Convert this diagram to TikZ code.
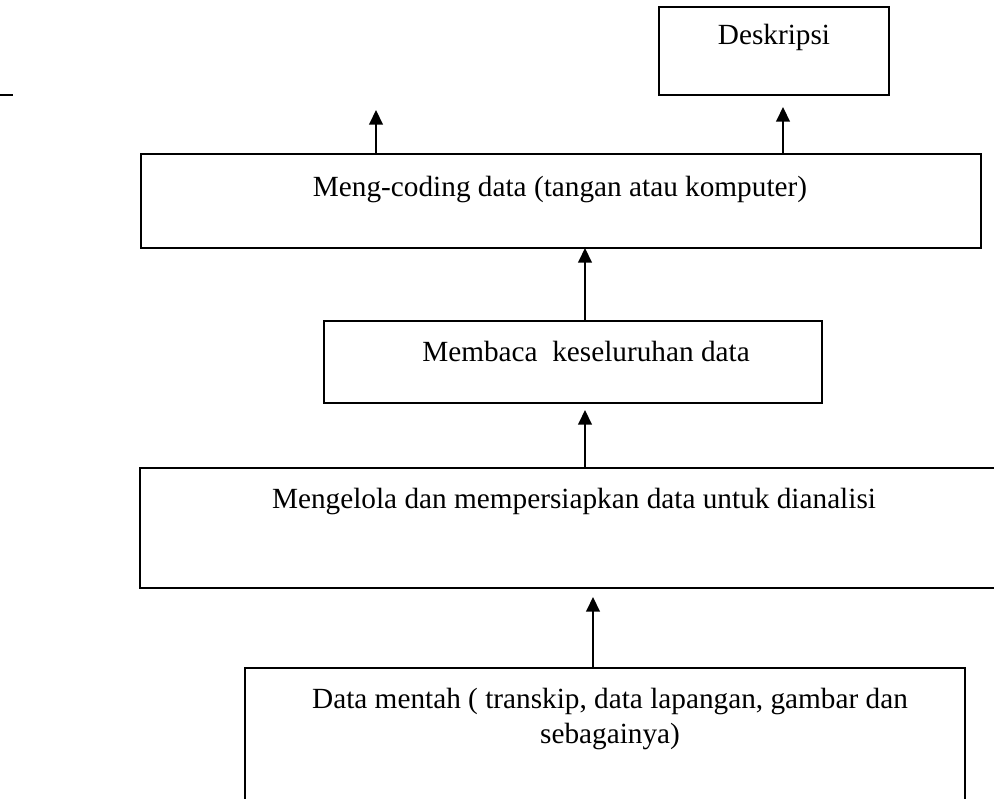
\documentclass[tikz,border=0pt]{standalone}
\usepackage{fontspec}
\setmainfont{Liberation Serif}
\usetikzlibrary{arrows.meta,fit}

\begin{document}
\begin{tikzpicture}[x=0.41pt,y=-0.41pt,
    font=\fontsize{12}{14.35}\selectfont,
    box/.style={draw,line width=0.8pt,inner sep=0pt,outer sep=0pt},
    txt/.style={anchor=base,inner sep=0pt,align=center},
    up/.style={-{Triangle[width=5.6pt,length=6pt]},line width=0.8pt}]
  \useasboundingbox (0,0) rectangle (994,798);
  \clip (0,0) rectangle (994,798);
  \draw[line width=0.8pt] (0,95)--(13,95);
  % boxes, top to bottom
  \node[box,fit={(659,7)(889,95)}] (deskripsi) {};
  \node[box,fit={(141,154)(981,248)}] (coding) {};
  \node[box,fit={(324,321)(822,403)}] (membaca) {};
  \node[box,fit={(140,468)(998,588)}] (mengelola) {};
  \node[box,fit={(245,668)(965,805)}] (mentah) {};
  \node[txt] (deskripsi-t) at (774,45) {Deskripsi};
  \node[txt] (coding-t) at (560,196) {Meng-coding data (tangan atau komputer)};
  \node[txt] (membaca-t) at (586,361) {Membaca\ \ keseluruhan data};
  \node[txt] (mengelola-t) at (574,508) {Mengelola dan mempersiapkan data untuk dianalisi};
  % base of a two-line node is its last line
  \node[txt] (mentah-t) at (610,743) {Data mentah ( transkip, data lapangan, gambar dan\\ sebagainya)};
  % arrows
  \coordinate (tipL) at (376,110);
  \coordinate (tipR) at (783,107);
  \coordinate (mid) at (585,0);
  \coordinate (tipM) at (585,410);
  \coordinate (tipB) at (593,597);
  \draw[up] (coding.north -| tipL)--(tipL);
  \draw[up] (coding.north -| tipR)--(tipR);
  \draw[up] (membaca.north -| mid)--(coding.south -| mid);
  \draw[up] (mengelola.north -| tipM)--(tipM);
  \draw[up] (mentah.north -| tipB)--(tipB);
\end{tikzpicture}
\end{document}
